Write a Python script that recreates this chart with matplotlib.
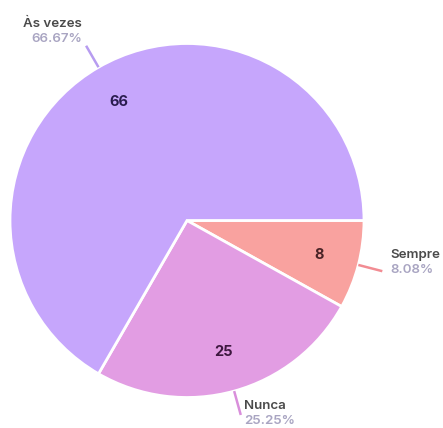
import numpy as np
import matplotlib
matplotlib.use("Agg")
import matplotlib.pyplot as plt

categories = ["Sempre", "Nunca", "Às vezes"]
counts = [8, 25, 66]
percent_labels = ["8.08%", "25.25%", "66.67%"]

slice_colors = ["#F9A29F", "#E29DE3", "#C6A6FC"]
line_colors = ["#F28C93", "#D98FDB", "#B79CF0"]
value_colors = ["#4A2326", "#3E1840", "#2A1C4F"]
name_color = "#4A4A4A"
pct_color = "#A9A5C2"

W, H, DPI = 443, 428, 100
fig = plt.figure(figsize=(W / DPI, H / DPI), dpi=DPI)
ax = fig.add_axes([0, 0, 1, 1])

# pie geometry in pixels
cx, cy, rad = 187.0, 220.5, 177.0

wedges, _ = ax.pie(counts, colors=slice_colors, startangle=0, counterclock=False,
                   radius=1.0, wedgeprops=dict(edgecolor="white", linewidth=2))

ax.set_aspect("auto")
ax.set_xlim(-cx / rad, (W - cx) / rad)
ax.set_ylim(-(H - cy) / rad, cy / rad)
ax.axis("off")

font = ["Inter", "DejaVu Sans"]

# text offsets (pixels) from each leader line's outer end
offsets = {
    "Sempre": dict(ha="left", name=(8, 16), pct=(8, 1)),
    "Nunca": dict(ha="left", name=(3, 9), pct=(3, -6)),
    "Às vezes": dict(ha="right", name=(-4, 22), pct=(-4, 7)),
}

for w, cat, n, pct, lc, vc in zip(wedges, categories, counts, percent_labels,
                                  line_colors, value_colors):
    mid = np.deg2rad((w.theta1 + w.theta2) / 2)
    ux, uy = np.cos(mid), np.sin(mid)
    # count inside the slice
    ax.text(0.77 * ux, 0.77 * uy, str(n), ha="center", va="center",
            fontsize=10.5, fontweight="bold", color=vc, family=font)
    # leader line
    x0, y0 = 1.0 * ux, 1.0 * uy
    x1, y1 = 1.14 * ux, 1.14 * uy
    ax.plot([x0, x1], [y0, y1], color=lc, lw=1.8, solid_capstyle="butt")
    o = offsets[cat]
    ax.annotate(cat, (x1, y1), xytext=o["name"], textcoords="offset pixels",
                ha=o["ha"], va="center", fontsize=9.6, fontweight="semibold",
                color=name_color, family=font)
    ax.annotate(pct, (x1, y1), xytext=o["pct"], textcoords="offset pixels",
                ha=o["ha"], va="center", fontsize=9.6, fontweight="semibold",
                color=pct_color, family=font)

fig.savefig("out.png", dpi=DPI)
